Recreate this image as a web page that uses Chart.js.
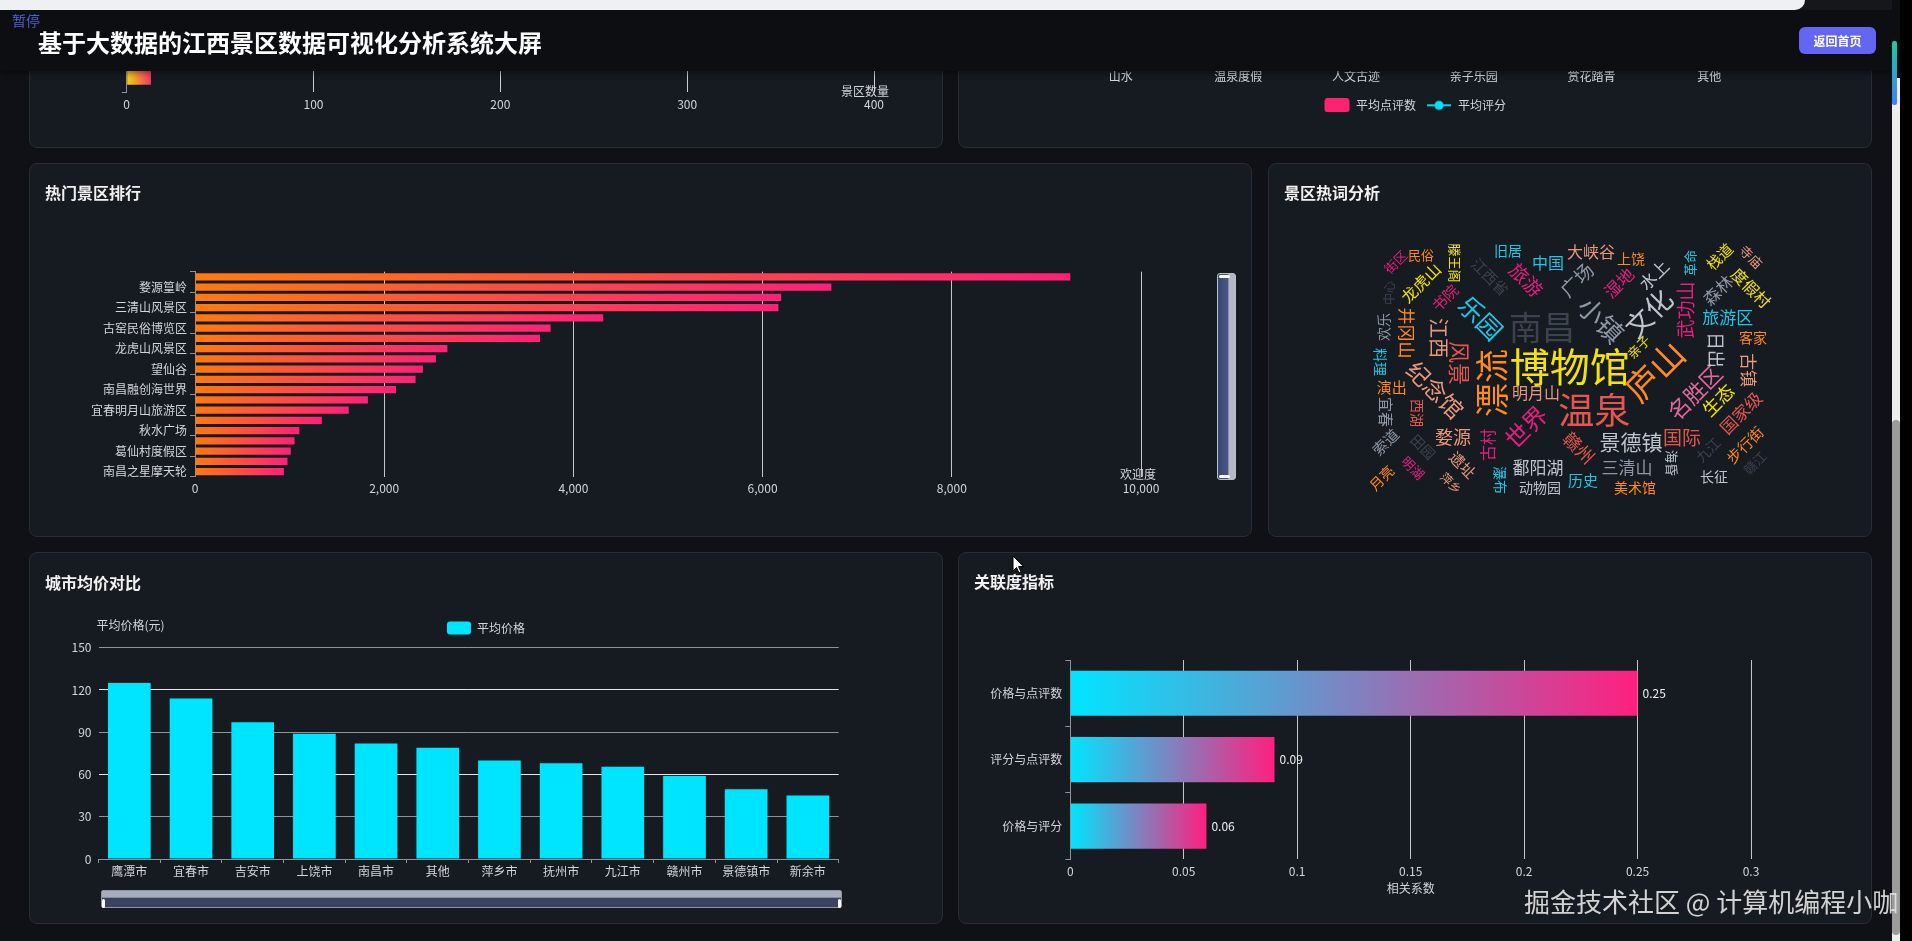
<!DOCTYPE html>
<html lang="zh-CN">
<head>
<meta charset="utf-8">
<title>基于大数据的江西景区数据可视化分析系统大屏</title>
<script src="https://cdn.jsdelivr.net/npm/chart.js@4.4.1/dist/chart.umd.min.js"></script>
<style>
  html, body { margin: 0; padding: 0; }
  body { width: 1912px; height: 941px; overflow: hidden; position: relative; background: #0f1116;
         font-family: "Noto Sans CJK SC", "Noto Sans", sans-serif; }
  .panel { position: absolute; background: #161a21; border: 1px solid #272c35; border-radius: 8px;
           box-sizing: border-box; overflow: hidden; }
  .panel h3 { position: absolute; left: 15px; margin: 0; font-size: 16px; line-height: 20px;
              font-weight: 700; color: #f1f1f1; z-index: 2; }
  .chart-box { position: absolute; left: 0; top: 0; width: 100%; height: 100%; }
  .abs { position: absolute; }
  #strip { left: 0; top: 0; width: 1805px; height: 10px; background: #eef0f3; border-bottom-right-radius: 10px; z-index: 20; }
  #stripEnd { left: 1805px; top: 0; width: 87px; height: 10px; background: #15171b; z-index: 20; }
  header { position: absolute; left: 0; top: 10px; width: 1892px; height: 61px; background: #0c0e12; z-index: 10;
           box-shadow: 0 2px 6px rgba(0,0,0,0.45); }
  header h1 { position: absolute; left: 38px; top: 19px; margin: 0; font-size: 24px; line-height: 26px; font-weight: 700; color: #fff; }
  #pause { position: absolute; left: 12px; top: 2px; font-size: 14px; line-height: 17px; color: #4a63d8; }
  #home { position: absolute; left: 1799px; top: 17px; width: 77px; height: 27px; border-radius: 6px; background: #6366f1;
          color: #fff; font-size: 12px; font-weight: 700; line-height: 27px; text-align: center; }
  #sbDark { left: 1892px; top: 0; width: 8px; height: 78px; background: #0c0e12; z-index: 30; }
  #sbTeal { left: 1892px; top: 41px; width: 5px; height: 64px; background: linear-gradient(#20c997, #3b82f6); z-index: 31; border-radius: 2px; }
  #sbTrack { left: 1892px; top: 78px; width: 8px; height: 863px; background: #eeeeee; z-index: 30; }
  #sbThumb { left: 1892px; top: 420px; width: 8px; height: 515px; background: #9b9b9b; border-radius: 4px; z-index: 31; }
  #sbEdge { left: 1900px; top: 0; width: 12px; height: 941px; background: #000; z-index: 30; }
  #vZoom { left: 1217px; top: 273px; width: 19px; height: 207px; box-sizing: border-box; border: 1px solid #b8bfcd; border-radius: 3px;
           background: linear-gradient(90deg, #3a4675 0%, #4a5684 60%, #b3b9c7 63%, #b3b9c7 100%); z-index: 5; }
  #vZoom i { position: absolute; left: 1px; width: 11px; height: 3px; background: #fff; border-radius: 2px; }
  #hZoom { left: 101px; top: 890px; width: 741px; height: 18px; box-sizing: border-box; border: 1px solid #8e95a6; border-radius: 2px;
           background: linear-gradient(#a7adba 0%, #a7adba 40%, #39425e 42%, #39425e 100%); z-index: 5; }
  #hZoom i { position: absolute; top: 8px; width: 3px; height: 9px; background: #fff; border-radius: 2px; }
  #mark { left: 1524px; top: 885px; font-size: 26px; line-height: 32px; color: rgba(226,226,226,0.92); z-index: 40; white-space: nowrap; }
</style>
</head>
<body>
<div id="strip" class="abs"></div>
<div id="stripEnd" class="abs"></div>
<header>
  <div id="pause">暂停</div>
  <h1>基于大数据的江西景区数据可视化分析系统大屏</h1>
  <div id="home">返回首页</div>
</header>

<div class="panel" style="left:29px; top:-240px; width:914px; height:388px;">
  <div class="chart-box"><canvas id="cityCount"></canvas></div>
</div>
<div class="panel" style="left:958px; top:-240px; width:914px; height:388px;">
  <div class="chart-box"><canvas id="typeChart"></canvas></div>
</div>

<div class="panel" style="left:29px; top:163px; width:1223px; height:374px;">
  <h3 style="top:18px;">热门景区排行</h3>
  <div class="chart-box"><canvas id="hotChart"></canvas></div>
</div>
<div class="panel" style="left:1268px; top:163px; width:604px; height:374px;">
  <h3 style="top:18px;">景区热词分析</h3>
  <div class="chart-box"><canvas id="cloudChart"></canvas></div>
</div>
<div class="panel" style="left:29px; top:552px; width:914px; height:372px;">
  <h3 style="top:19px;">城市均价对比</h3>
  <div class="chart-box"><canvas id="priceChart"></canvas></div>
</div>
<div class="panel" style="left:958px; top:552px; width:914px; height:372px;">
  <h3 style="top:18px;">关联度指标</h3>
  <div class="chart-box"><canvas id="corrChart"></canvas></div>
</div>

<div id="vZoom" class="abs"><i style="top:1px;"></i><i style="bottom:1px;"></i></div>
<div id="hZoom" class="abs"><i style="left:0;"></i><i style="right:0;"></i></div>
<svg class="abs" style="left:1012px; top:555px; z-index:40;" width="14" height="20" viewBox="0 0 14 20">
  <path d="M1 1 L1 16 L4.5 12.5 L7 18 L9 17 L6.6 11.6 L11.5 11.6 Z" fill="#fff" stroke="#000" stroke-width="1"/>
</svg>
<div id="mark" class="abs">掘金技术社区 @ 计算机编程小咖</div>

<div id="sbDark" class="abs"></div>
<div id="sbTeal" class="abs"></div>
<div id="sbTrack" class="abs"></div>
<div id="sbThumb" class="abs"></div>
<div id="sbEdge" class="abs"></div>

<script>
// ---- data ----
// city scenic counts (only the lowest bar shows under the header)
const countCities = ['新余市', '萍乡市', '鹰潭市', '景德镇市', '抚州市', '宜春市', '吉安市', '九江市', '上饶市', '赣州市', '南昌市'];
const countValues = [13, 28, 35, 52, 70, 96, 118, 140, 185, 230, 350];

// scenic types (plot area is behind the header)
const typeNames = ['山水', '温泉度假', '人文古迹', '亲子乐园', '赏花踏青', '其他'];
const typeReviews = [1200, 900, 1500, 800, 600, 400];
const typeScores = [4.5, 4.4, 4.6, 4.3, 4.5, 4.2];

// hot spots, bottom to top
const hotNames = ['南昌之星摩天轮', '滕王阁', '葛仙村度假区', '八一起义纪念馆', '秋水广场', '井冈山风景区',
  '宜春明月山旅游区', '武功山', '南昌融创海世界', '庐山西海', '望仙谷', '鄱阳湖湿地', '龙虎山风景区', '灵山',
  '古窑民俗博览区', '大觉山', '三清山风景区', '明月山温泉', '婺源篁岭', '庐山风景区'];
const hotValues = [940, 978, 1013, 1052, 1103, 1341, 1625, 1828, 2125, 2332, 2409, 2547, 2668, 3647,
  3759, 4315, 6167, 6196, 6727, 9253];
const hotTicks = [0, 2000, 4000, 6000, 8000, 10000];

// word cloud
const cloudWords = ['博物馆', '南昌', '温泉', '庐山', '漂流', '文化', '小镇', '乐园', '纪念馆', '名胜区',
  '世界', '景德镇', '国际', '婺源', '鄱阳湖', '三清山', '动物园', '历史', '美术馆', '长征',
  '旧居', '中国', '大峡谷', '上饶', '广场', '湿地', '水上', '旅游', '江西省', '滕王阁',
  '民俗', '街区', '龙虎山', '书院', '中心', '欢乐', '井冈山', '江西', '风景', '料理',
  '演出', '宜春', '西湖', '索道', '田园', '遗址', '萍乡', '月亮', '明湖', '古村',
  '瀑布', '明月山', '亲子', '赣州', '海昏', '九江', '赣江', '步行街', '国家级', '生态',
  '古镇', '客家', '旅游区', '日出', '武功山', '森林', '度假村', '栈道', '寺庙', '革命'];
const cloudWeights = [64, 50, 56, 52, 52, 38, 36, 34, 30, 28,
  32, 26, 22, 20, 18, 18, 12, 14, 12, 12,
  12, 16, 16, 12, 22, 18, 18, 22, 14, 10,
  10, 10, 16, 14, 8, 12, 18, 24, 28, 12,
  14, 14, 12, 14, 12, 14, 8, 12, 10, 16,
  12, 16, 10, 20, 10, 12, 10, 14, 18, 20,
  18, 12, 18, 20, 22, 18, 16, 14, 10, 10];
// [x, y, rotation, colour] in cloud units 0..100
const cloudLayout = [
  [49.8, 49.3, 0, 0], [42.9, 33.6, 0, 8], [55.9, 66.4, 0, 4], [71.0, 51.0, -45, 1], [30.4, 55.7, -90, 1],
  [69.5, 28.1, -45, 7], [57.6, 30.8, 45, 6], [27.6, 30.0, 45, 2], [16.2, 58.5, 45, 5], [81.0, 59.5, -45, 9],
  [38.9, 73.1, -45, 3], [65.1, 79.1, 0, 7], [77.8, 77.5, 0, 4], [20.7, 77.1, 0, 5], [41.9, 89.3, 0, 7],
  [64.1, 89.3, 0, 6], [42.4, 97.2, 0, 7], [53.1, 94.1, 0, 2], [66.1, 97.2, 0, 1], [85.8, 92.9, 0, 7],
  [34.4, 3.6, 0, 2], [44.4, 8.3, 0, 2], [55.1, 4.0, 0, 5], [65.1, 6.7, 0, 1], [51.6, 15.0, -45, 6],
  [62.1, 16.2, -45, 3], [70.8, 13.0, -45, 7], [38.9, 15.0, 45, 3], [29.9, 13.8, 45, 8], [21.2, 8.3, 90, 0],
  [12.7, 5.1, 0, 1], [6.4, 7.9, -45, 3], [12.7, 16.2, -45, 0], [18.7, 22.1, -45, 3], [4.9, 20.2, -90, 8],
  [3.5, 33.6, -90, 6], [9.2, 36.0, 90, 1], [17.2, 37.9, 90, 5], [22.2, 47.8, 90, 4], [2.5, 47.4, 90, 2],
  [5.4, 57.3, 0, 1], [3.9, 67.2, 90, 6], [11.7, 67.6, 90, 4], [3.9, 79.1, -45, 6], [13.2, 81.0, 45, 8],
  [23.1, 88.1, 45, 5], [20.2, 95.3, 45, 5], [2.9, 93.3, -45, 1], [10.7, 89.3, 45, 3], [29.4, 80.2, -90, 3],
  [32.4, 94.1, 90, 2], [41.4, 59.7, 0, 5], [67.0, 41.5, -45, 0], [52.1, 81.4, 45, 4], [75.3, 87.4, 90, 7],
  [84.3, 82.2, -45, 8], [96.0, 87.4, -45, 8], [93.5, 80.2, -45, 1], [92.5, 67.6, -45, 4], [86.8, 62.5, -45, 0],
  [94.5, 50.6, 90, 5], [95.5, 37.9, 0, 1], [89.2, 30.0, 0, 2], [86.2, 42.7, 90, 7], [78.8, 26.9, -90, 3],
  [86.8, 19.0, -45, 6], [95.0, 18.2, 45, 0], [87.2, 5.8, -45, 0], [95.0, 5.9, 45, 5], [79.8, 8.3, -90, 2]];
const cloudPalette = ['#f2e20f', '#ff8a1e', '#1fc6e6', '#e3207f', '#e3574f', '#e8997c', '#8d98a6', '#bfc5cd', '#3c434e', '#de6a9c'];

// city average price
const priceCities = ['鹰潭市', '宜春市', '吉安市', '上饶市', '南昌市', '其他', '萍乡市', '抚州市', '九江市', '赣州市', '景德镇市', '新余市'];
const priceValues = [125, 114, 97, 89, 82, 79, 70, 68, 65.5, 59, 49.6, 45];

// correlation, bottom to top
const corrNames = ['价格与评分', '评分与点评数', '价格与点评数'];
const corrValues = [0.06, 0.09, 0.25];

// ---- helpers ----
const FONT = '"Noto Sans CJK SC", "Noto Sans", sans-serif';
const LABEL = '#d2d5db';
const AXIS = '#8e929a';
Chart.defaults.font.family = FONT;
Chart.defaults.font.size = 12;
Chart.defaults.color = LABEL;
Chart.defaults.animation = false;
Chart.defaults.plugins.tooltip.enabled = false;
Chart.defaults.plugins.legend.display = false;
Chart.defaults.events = [];

const fixSize = px => s => { if (s.isHorizontal()) s.height = px; else s.width = px; };

function barGradient(c0, c1) {
  return ctx => {
    const chart = ctx.chart, x = chart.scales.x;
    if (ctx.type !== 'data' || !chart.chartArea || !x) return c1;
    const x0 = x.getPixelForValue(0);
    const x1 = Math.max(x.getPixelForValue(ctx.raw), x0 + 1);
    const g = chart.ctx.createLinearGradient(x0, 0, x1, 0);
    g.addColorStop(0, c0);
    g.addColorStop(1, c1);
    return g;
  };
}

// axis names, placed relative to the chart area
const axisNames = {
  id: 'axisNames',
  afterDraw(chart, args, opts) {
    const a = chart.chartArea, ctx = chart.ctx;
    (opts.items || []).forEach(it => {
      const x = it.ax === 'center' ? (a.left + a.right) / 2 : a[it.ax];
      ctx.save();
      ctx.font = '12px ' + FONT;
      ctx.fillStyle = LABEL;
      ctx.textAlign = it.align || 'center';
      ctx.textBaseline = 'middle';
      ctx.fillText(it.text, x + it.dx, a[it.ay] + it.dy);
      ctx.restore();
    });
  }
};

// value labels at the end of horizontal bars
const barValues = {
  id: 'barValues',
  afterDatasetsDraw(chart, args, opts) {
    if (!opts.show) return;
    const ctx = chart.ctx;
    chart.getDatasetMeta(0).data.forEach((el, i) => {
      ctx.save();
      ctx.font = '12px ' + FONT;
      ctx.fillStyle = '#f0f0f0';
      ctx.textAlign = 'left';
      ctx.textBaseline = 'middle';
      ctx.fillText(chart.data.datasets[0].data[i], el.x + 5, el.y);
      ctx.restore();
    });
  }
};
Chart.register(axisNames, barValues);

// ---- top left: scenic count by city ----
new Chart(document.getElementById('cityCount'), {
  type: 'bar',
  data: { labels: countCities, datasets: [{ data: countValues, backgroundColor: barGradient('#f6d60a', '#f2346b'),
    categoryPercentage: 0.9, barPercentage: 0.55 }] },
  options: {
    indexAxis: 'y', responsive: true, maintainAspectRatio: false,
    layout: { padding: { left: 0, top: 20, right: 68, bottom: 25 } },
    scales: {
      x: { min: 0, max: 400, afterFit: fixSize(30),
        ticks: { stepSize: 100, padding: 5, color: LABEL },
        grid: { drawTicks: false, color: c => c.index === 0 ? 'transparent' : '#cfcfcf' },
        border: { display: false } },
      y: { reverse: true, afterFit: fixSize(96.7),
        ticks: { display: false },
        grid: { drawOnChartArea: false, tickLength: 5, color: AXIS },
        border: { display: true, color: AXIS } }
    },
    plugins: { axisNames: { items: [{ text: '景区数量', ax: 'right', ay: 'bottom', dx: -9, dy: -1 }] } }
  }
});

// ---- top right: scenic types ----
function legendIcon(kind) {
  const c = document.createElement('canvas');
  c.width = 26; c.height = 14;
  const g = c.getContext('2d');
  if (kind === 'rect') {
    g.fillStyle = '#ff2270';
    g.beginPath(); g.roundRect(0.5, 0, 25, 14, 3); g.fill();
  } else {
    g.strokeStyle = '#00d9f0'; g.lineWidth = 2;
    g.beginPath(); g.moveTo(1, 7); g.lineTo(25, 7); g.stroke();
    g.fillStyle = '#00e1f5';
    g.beginPath(); g.arc(13, 7, 4.5, 0, Math.PI * 2); g.fill();
  }
  return c;
}
const typeIcons = [legendIcon('rect'), legendIcon('line')];
new Chart(document.getElementById('typeChart'), {
  type: 'bar',
  data: { labels: typeNames, datasets: [
    { label: '平均点评数', data: typeReviews, backgroundColor: '#ff2270', yAxisID: 'y' },
    { type: 'line', label: '平均评分', data: typeScores, borderColor: '#00d9f0', backgroundColor: '#00e1f5', pointRadius: 4, yAxisID: 'y1' }
  ] },
  options: {
    responsive: true, maintainAspectRatio: false,
    layout: { padding: { left: 0, top: 20, right: 0, bottom: 31.7 } },
    scales: {
      x: { afterFit: fixSize(21.3), ticks: { padding: 1.5, color: LABEL },
        grid: { display: false, drawTicks: false }, border: { display: false } },
      y: { position: 'left', min: 0, afterFit: fixSize(102.8), ticks: { display: false }, grid: { display: false }, border: { display: false } },
      y1: { position: 'right', min: 0, max: 5, afterFit: fixSize(103), ticks: { display: false }, grid: { display: false }, border: { display: false } }
    },
    plugins: {
      legend: { display: true, position: 'bottom', maxHeight: 26,
        labels: { usePointStyle: true, pointStyleWidth: 26, padding: 10, color: LABEL,
          generateLabels: chart => chart.data.datasets.map((ds, i) => ({
            text: ds.label, pointStyle: typeIcons[i], datasetIndex: i, fontColor: LABEL,
            fillStyle: 'transparent', strokeStyle: 'transparent', lineWidth: 0, hidden: false })) } }
    }
  }
});

// ---- hot spots ranking ----
new Chart(document.getElementById('hotChart'), {
  type: 'bar',
  data: { labels: hotNames, datasets: [{ data: hotValues, backgroundColor: barGradient('#ff7a0e', '#ff2077'),
    categoryPercentage: 0.8, barPercentage: 0.9 }] },
  options: {
    indexAxis: 'y', responsive: true, maintainAspectRatio: false,
    layout: { padding: { left: 0, top: 107.7, right: 110, bottom: 29.3 } },
    scales: {
      x: { min: hotTicks[0], max: hotTicks[hotTicks.length - 1], afterFit: fixSize(30),
        afterBuildTicks: s => { s.ticks = hotTicks.map(v => ({ value: v })); },
        ticks: { padding: 5, color: LABEL, callback: v => v.toLocaleString('en-US') },
        grid: { drawTicks: false, color: c => c.index === 0 ? 'transparent' : '#c6c6c6' },
        border: { display: false } },
      y: { reverse: true, afterFit: fixSize(165),
        ticks: { autoSkip: false, padding: 3, color: LABEL,
          callback: function (v, i) { return i % 2 === 0 ? this.getLabelForValue(v) : ''; } },
        grid: { drawOnChartArea: false, tickLength: 5,
          color: c => (c.index === undefined || c.index % 2 === 0) ? AXIS : 'transparent' },
        border: { display: true, color: AXIS } }
    },
    plugins: { axisNames: { items: [{ text: '欢迎度', ax: 'right', ay: 'bottom', dx: -3, dy: -2 }] } }
  }
});

// ---- word cloud ----
const cloudSize = w => 8 + w / 2;
const cloudText = {
  id: 'cloudText',
  afterDatasetsDraw(chart) {
    const ctx = chart.ctx;
    chart.getDatasetMeta(0).data.forEach((pt, i) => {
      const [, , rot, col] = cloudLayout[i];
      ctx.save();
      ctx.translate(pt.x, pt.y);
      ctx.rotate(rot * Math.PI / 180);
      ctx.font = cloudSize(cloudWeights[i]) + 'px ' + FONT;
      ctx.fillStyle = cloudPalette[col];
      ctx.textAlign = 'center';
      ctx.textBaseline = 'middle';
      ctx.fillText(cloudWords[i], 0, 0);
      ctx.restore();
    });
  }
};
new Chart(document.getElementById('cloudChart'), {
  type: 'scatter',
  data: { datasets: [{ data: cloudLayout.map(p => ({ x: p[0], y: p[1] })), pointRadius: 0 }] },
  options: {
    responsive: true, maintainAspectRatio: false,
    layout: { padding: { left: 101, top: 78, right: 100, bottom: 41 } },
    scales: {
      x: { display: false, min: 0, max: 100 },
      y: { display: false, min: 0, max: 100, reverse: true }
    }
  },
  plugins: [cloudText]
});

// ---- city average price ----
new Chart(document.getElementById('priceChart'), {
  type: 'bar',
  data: { labels: priceCities, datasets: [{ label: '平均价格', data: priceValues, backgroundColor: '#00e5ff', borderWidth: 0,
    categoryPercentage: 0.8, barPercentage: 0.865 }] },
  options: {
    responsive: true, maintainAspectRatio: false,
    layout: { padding: { left: 0, top: 58.5, right: 0, bottom: 34 } },
    scales: {
      x: { afterFit: fixSize(30),
        ticks: { autoSkip: false, maxRotation: 0, padding: 1.5, color: LABEL },
        grid: { drawOnChartArea: false, tickLength: 4, color: AXIS },
        border: { display: true, color: AXIS } },
      y: { min: 0, max: 150, afterFit: fixSize(68.5),
        ticks: { stepSize: 30, padding: 7, color: LABEL },
        grid: { drawTicks: false, color: c => c.index === 0 ? 'transparent' : (c.index % 2 ? '#8e929a' : '#e6e6e6') },
        border: { display: false } },
      padR: { position: 'right', type: 'linear', afterFit: fixSize(103.3), ticks: { display: false },
        grid: { display: false, drawTicks: false }, border: { display: false } },
      padT: { position: 'top', type: 'linear', afterFit: fixSize(3.2), ticks: { display: false },
        grid: { display: false, drawTicks: false }, border: { display: false } }
    },
    plugins: {
      legend: { display: true, position: 'top',
        labels: { boxWidth: 24, boxHeight: 13, useBorderRadius: true, borderRadius: 3, padding: 10, color: LABEL } },
      axisNames: { items: [{ text: '平均价格(元)', ax: 'left', ay: 'top', dx: -2, dy: -22, align: 'left' }] }
    }
  }
});

// ---- correlation ----
new Chart(document.getElementById('corrChart'), {
  type: 'bar',
  data: { labels: corrNames, datasets: [{ data: corrValues, backgroundColor: barGradient('#00e5ff', '#ff1f7f'),
    categoryPercentage: 0.8, barPercentage: 0.85 }] },
  options: {
    indexAxis: 'y', responsive: true, maintainAspectRatio: false,
    layout: { padding: { left: 0, top: 107, right: 120, bottom: 33.7 } },
    scales: {
      x: { min: 0, max: 0.3, afterFit: fixSize(30),
        ticks: { stepSize: 0.05, padding: 5, color: LABEL, callback: v => String(+v.toFixed(2)) },
        grid: { drawTicks: false, color: c => c.index === 0 ? 'transparent' : '#c6c6c6' },
        border: { display: false } },
      y: { reverse: true, afterFit: fixSize(111.3),
        ticks: { padding: 3, color: LABEL },
        grid: { drawOnChartArea: false, tickLength: 5, color: AXIS },
        border: { display: true, color: AXIS } }
    },
    plugins: {
      barValues: { show: true },
      axisNames: { items: [{ text: '相关系数', ax: 'center', ay: 'bottom', dx: 0, dy: 28.7 }] }
    }
  }
});
</script>
</body>
</html>
